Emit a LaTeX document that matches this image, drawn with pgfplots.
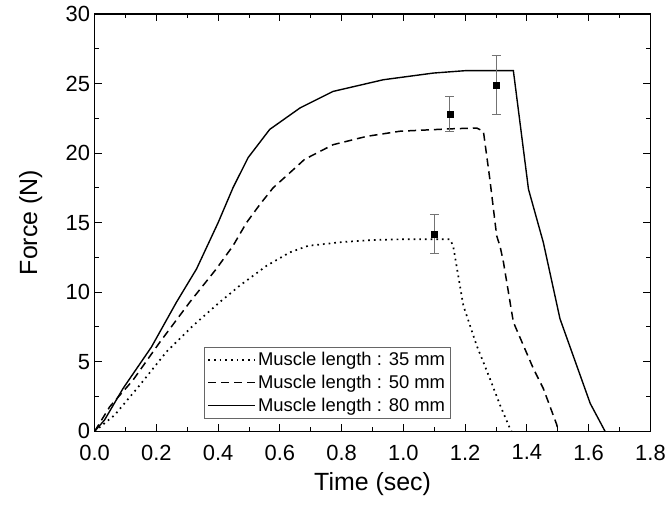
\documentclass[border=0pt]{standalone}
\usepackage{fontspec}
\setmainfont{Liberation Sans}
\usepackage{pgfplots}
\pgfplotsset{compat=1.18}
\begin{document}
\begin{tikzpicture}
\begin{axis}[
  scale only axis, width=558pt, height=419pt,
  xmin=0, xmax=1.8, ymin=0, ymax=30,
  xtick={0,0.2,0.4,0.6,0.8,1.0,1.2,1.4,1.6,1.8},
  ytick={0,5,10,15,20,25,30},
  minor x tick num=1, minor y tick num=1,
  tick align=inside, xtick pos=both, ytick pos=both,
  major tick length=7pt, minor tick length=4.5pt,
  every tick/.style={black, line width=1pt},
  axis line style={line width=1.3pt},
  xticklabel style={yshift=-10pt, /pgf/number format/.cd, fixed, fixed zerofill, precision=1},
  /pgf/number format/assume math mode=true,
  ticklabel style={font=\fontsize{22}{22}\selectfont},
  yticklabel style={xshift=-1pt},
  label style={font=\fontsize{25}{25}\selectfont},
  xlabel={Time (sec)}, ylabel={Force (N)},
  xlabel style={at={(axis description cs:0.5,0)}, anchor=center, yshift=-53pt},
  ylabel style={at={(axis description cs:-0.115,0.5)}, anchor=center},
  legend style={at={(0.197,0.031)}, anchor=south west, draw=black!60, line width=0.8pt,
    font=\fontsize{18.5}{20}\selectfont, cells={anchor=west}, row sep=4pt,
    inner sep=3pt},
  legend image code/.code={\draw[#1] (0pt,0pt) -- (47pt,0pt);},
]
\addplot[black, line width=1.7pt, dash pattern=on 1.7pt off 4pt] coordinates {
(0,0) (0.065,1.17) (0.146,3.31) (0.232,5.7) (0.319,7.6) (0.405,9.28) (0.470,10.47)
(0.557,11.9) (0.632,12.86) (0.691,13.33) (0.8,13.6) (0.9,13.75) (0.989,13.8)
(1.151,13.8) (1.161,13.33) (1.194,9.04) (1.237,6.18) (1.280,3.79) (1.313,1.88) (1.345,0.2) (1.35,0)};
\addlegendentry{Muscle length : 35 mm}
\addplot[black, line width=1.5pt, dash pattern=on 8pt off 5pt] coordinates {
(0,0) (0.049,1.77) (0.124,3.67) (0.211,6.4) (0.308,9.28) (0.394,11.67) (0.448,13.33)
(0.492,15.0) (0.535,16.3) (0.578,17.5) (0.632,18.58) (0.680,19.55) (0.772,20.6) (0.881,21.2)
(0.989,21.57) (1.151,21.74) (1.237,21.8) (1.259,21.57) (1.280,18.1) (1.302,14.05) (1.313,13.3)
(1.324,12.15) (1.356,7.85) (1.421,4.5) (1.453,3.08) (1.497,0.45) (1.50,0)};
\addlegendentry{Muscle length : 50 mm}
\addplot[black, line width=1.4pt] coordinates {
(0,0) (0.032,0.81) (0.092,3.08) (0.184,6.06) (0.265,9.28) (0.330,11.67) (0.400,15.0)
(0.448,17.5) (0.497,19.67) (0.567,21.7) (0.665,23.24) (0.772,24.43) (0.935,25.27)
(1.097,25.75) (1.205,25.93) (1.356,25.93) (1.405,17.4) (1.453,13.58) (1.507,8.09)
(1.605,2.0) (1.653,0)};
\addlegendentry{Muscle length : 80 mm}
\addplot[black, only marks, mark=square*, mark size=3pt, forget plot,
  error bars/.cd, y dir=both, y explicit,
  error bar style={black!55, line width=0.8pt},
  error mark options={rotate=90, black!55, mark size=4.5pt, line width=0.8pt}]
  coordinates {(1.1,14.2) +- (0,1.4) (1.15,22.8) +- (0,1.25) (1.3,24.9) +- (0,2.1)};
\end{axis}
\path (current axis.south west) ++(-95pt,-76pt);
\path (current axis.north east) ++(16pt,14pt);
\end{tikzpicture}
\end{document}
